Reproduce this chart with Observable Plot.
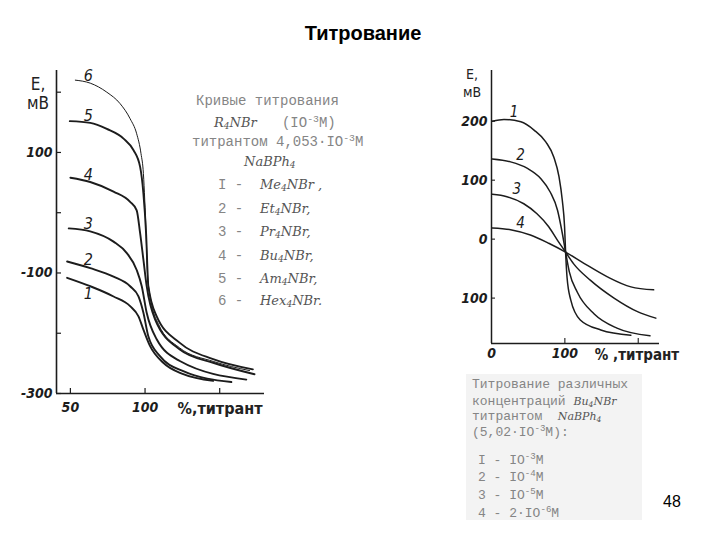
<!DOCTYPE html>
<html><head><meta charset="utf-8">
<script src="https://cdn.jsdelivr.net/npm/d3@7"></script>
<script src="https://cdn.jsdelivr.net/npm/@observablehq/plot@0.6"></script>
<style>
body{margin:0;width:720px;height:540px;background:#fff;position:relative;overflow:hidden;font-family:"Liberation Sans",Arial,sans-serif}
.t{position:absolute;white-space:pre;line-height:1;transform:translateY(-50%)}
.c{transform:translate(-50%,-50%)}
.tw{font-family:"Liberation Mono","DejaVu Sans Mono",monospace;color:#858585;font-size:14px}
.tw2{font-family:"Liberation Mono","DejaVu Sans Mono",monospace;color:#858585;font-size:13px}
.hw{font-family:"DejaVu Serif","Liberation Serif",serif;font-style:italic;color:#555;font-size:13px}
.ax{font-family:"Liberation Sans Narrow","DejaVu Sans Condensed",sans-serif;color:#222}
sub{font-size:0.7em;vertical-align:-0.25em;line-height:0}
sup{font-size:0.7em;vertical-align:0.55em;line-height:0}
#L,#R{position:absolute;top:0}
#L{left:0}#R{left:400px}
</style></head><body>
<div class="t c" style="left:363px;top:33px;font-size:20px;font-weight:bold;font-family:Arial,'Liberation Sans',sans-serif">Титрование</div>
<div id="L"></div><div id="R"></div>

<div class="t c ax" style="left:38px;top:84px;font-size:17px">E,</div>
<div class="t c ax" style="left:38px;top:103px;font-size:17px">мВ</div>
<div class="t c ax" style="left:220px;top:409px;font-size:16px;font-weight:bold">%,титрант</div>

<div class="t c ax" style="left:472px;top:74px;font-size:14px">E,</div>
<div class="t c ax" style="left:472px;top:92px;font-size:14px">мВ</div>
<div class="t c ax" style="left:637px;top:355px;font-size:15px;font-weight:bold">% ,титрант</div>

<div class="t tw" style="left:196px;top:101px">Кривые титрования</div>
<div class="t" style="left:214px;top:122px"><span class="hw">R<sub>4</sub>NBr</span><span class="tw">   (IO<sup>-3</sup>M)</span></div>
<div class="t tw" style="left:192px;top:142px">титрантом 4,053·IO<sup>-3</sup>M</div>
<div class="t hw" style="left:244px;top:161px">NaBPh<sub>4</sub></div>
<div class="t" style="left:218px;top:184px"><span class="tw">I -  </span><span class="hw">Me<sub>4</sub>NBr ,</span></div>
<div class="t" style="left:218px;top:208px"><span class="tw">2 -  </span><span class="hw">Et<sub>4</sub>NBr,</span></div>
<div class="t" style="left:218px;top:231px"><span class="tw">3 -  </span><span class="hw">Pr<sub>4</sub>NBr,</span></div>
<div class="t" style="left:218px;top:255px"><span class="tw">4 -  </span><span class="hw">Bu<sub>4</sub>NBr,</span></div>
<div class="t" style="left:218px;top:278px"><span class="tw">5 -  </span><span class="hw">Am<sub>4</sub>NBr,</span></div>
<div class="t" style="left:218px;top:300px"><span class="tw">6 -  </span><span class="hw">Hex<sub>4</sub>NBr.</span></div>

<div style="position:absolute;left:466px;top:374px;width:176px;height:146px;background:#f3f3f3"></div>
<div class="t tw2" style="left:472px;top:384px">Титрование различных</div>
<div class="t" style="left:472px;top:400px"><span class="tw2">концентраций </span><span class="hw" style="font-size:11px">Bu<sub>4</sub>NBr</span></div>
<div class="t" style="left:472px;top:415px"><span class="tw2">титрантом  </span><span class="hw" style="font-size:11px">NaBPh<sub>4</sub></span></div>
<div class="t tw2" style="left:472px;top:432px">(5,02·IO<sup>-3</sup>M):</div>
<div class="t tw2" style="left:478px;top:460px">I - IO<sup>-3</sup>M</div>
<div class="t tw2" style="left:478px;top:477px">2 - IO<sup>-4</sup>M</div>
<div class="t tw2" style="left:478px;top:495px">3 - IO<sup>-5</sup>M</div>
<div class="t tw2" style="left:478px;top:513px">4 - 2·IO<sup>-6</sup>M</div>
<div class="t c" style="left:672px;top:502px;font-size:16px;font-family:Arial,'Liberation Sans',sans-serif">48</div>

<script>
// ---------- Left chart data: E (mV) vs % titrant ----------
const seriesL = ["1","2","3","4","5","6"];
const curveL1 = [[47.8,-108],[63.3,-122],[78.9,-139],[90,-155],[95.6,-172],[98.9,-194],[103.3,-221],[112.2,-249],[125.6,-268],[145.6,-279]];
const curveL2 = [[47.8,-81],[63.3,-92],[78.9,-106],[90,-122],[95.6,-139],[98.9,-166],[102.2,-205],[110,-238],[125.6,-263],[157.8,-281]];
const curveL3 = [[48.9,-26],[63.3,-31],[78.9,-48],[87.8,-67],[94.4,-95],[97.8,-122],[101.1,-166],[107.8,-210],[123.3,-246],[167.8,-277]];
const curveL4 = [[50,58],[63.3,51],[78.9,35],[90,18],[94.4,4],[96.7,-34],[98.9,-78],[101.1,-122],[106.7,-177],[123.3,-227],[145.6,-249],[173.3,-268]];
const curveL5 = [[49.6,152],[63.3,149],[74.4,139],[85.6,123],[92.2,104],[96.7,76],[98.9,32],[100.7,-34],[102.2,-122],[107.8,-172],[123.3,-216],[145.6,-243],[172.2,-260]];
const curveL6 = [[53.3,220],[63.3,215],[74.4,200],[83.3,181],[90,156],[94.4,131],[97.3,98],[98.9,65],[99.8,21],[100.7,-34],[101.6,-100],[103.5,-140],[109,-185],[123,-224],[146,-247],[170,-262]];
const curvesL = [curveL1, curveL2, curveL3, curveL4, curveL5, curveL6];
const xDomainL = [40.7, 180];
const yDomainL = [-300, 236];
const xTicksL = [50, 100, 150];
const xTickLabelsL = [50, 100];
const yTicksL = [-300, -200, -100, 0, 100, 200];
const yTickLabelsL = [-300, -100, 100];

// ---------- Right chart data ----------
const seriesR = ["1","2","3","4"];
const curveR1 = [[1,200],[17,203],[40,199],[58,185],[74,165],[85,139],[92,106],[96.5,66],[99.6,21],[101,-22],[103,-65],[108,-103],[121,-137],[149,-154],[190,-163]];
const curveR2 = [[1,136],[26,131],[49,120],[67,103],[80,80],[90,49],[96.5,10],[101,-22],[106,-55],[117,-90],[140,-127],[171,-151],[216,-164]];
const curveR3 = [[1,76],[21,72],[44,60],[62,43],[78,21],[90,-2],[101,-22],[112,-42],[135,-70],[167,-100],[199,-123],[224,-134]];
const curveR4 = [[1,19],[26,16],[53,7],[78,-7],[101,-22],[126,-41],[158,-64],[190,-81],[221,-86]];
const curvesR = [curveR1, curveR2, curveR3, curveR4];
const xDomainR = [0, 229];
const yDomainR = [-177, 286];
const xTicksR = [100, 200];
const xTickLabelsR = [0, 100];
const yTicksR = [200, 100, 0, -100];
const yTickLabelsR = ["200", "100", "0", "100"];

// ---------- layout (not data) ----------
const labelDyL = [8, -8, -8, -7, -7, -7];
const ink = "#1c1c1c";

const rowsOf = (series, curves) => series.flatMap((s, i) => curves[i].map(([x, y]) => ({s, x, y})));
const rowsL = rowsOf(seriesL, curvesL);
const rowsR = rowsOf(seriesR, curvesR);

const axisStyle = {background: "transparent", overflow: "visible", fontFamily: "'Liberation Sans Narrow','DejaVu Sans Condensed',sans-serif", fontSize: "14px", fontStyle: "italic", fontWeight: "bold", color: ink};

// Left plot
const WL = 300, HL = 430, mlL = 56, mrL = 36, mtL = 70, mbL = 37;
const left = Plot.plot({
  width: WL, height: HL, marginLeft: mlL, marginRight: mrL, marginTop: mtL, marginBottom: mbL,
  x: {domain: xDomainL, label: null}, y: {domain: yDomainL, label: null},
  style: axisStyle,
  marks: [
    Plot.ruleX([xDomainL[0]], {stroke: ink, strokeWidth: 1.6}),
    Plot.ruleY([yDomainL[0]], {stroke: ink, strokeWidth: 1.6}),
    Plot.tickY(yTicksL, {y: d => d, stroke: ink, strokeWidth: 1.2, insetRight: WL - mlL - mrL - 5}),
    Plot.tickX(xTicksL, {x: d => d, stroke: ink, strokeWidth: 1.2, insetTop: HL - mtL - mbL - 5}),
    Plot.axisY({ticks: yTickLabelsL, tickSize: 0, tickPadding: 4, label: null, tickFormat: d => String(d), fill: ink}),
    Plot.axisX({ticks: xTickLabelsL, tickSize: 0, tickPadding: 9, label: null, tickFormat: d => String(d), fill: ink}),
    Plot.line(rowsL.filter(d => d.s !== "6"), {x: "x", y: "y", z: "s", curve: "monotone-x", stroke: ink, strokeWidth: 1.9}),
    Plot.line(rowsL.filter(d => d.s === "6"), {x: "x", y: "y", curve: "monotone-x", stroke: ink, strokeWidth: 1.0}),
    ...seriesL.map((s, i) => Plot.text([{s, x: curvesL[i][1][0], y: curvesL[i][1][1]}], {x: "x", y: "y", text: "s", dx: -2, dy: labelDyL[i], fontSize: 16, fontStyle: "italic", fontWeight: "normal", fill: ink}))
  ]
});
document.getElementById("L").appendChild(left);

// Right plot
const WR = 300, HR = 380, mlR = 91, mrR = 41, mtR = 70, mbR = 37;
const right = Plot.plot({
  width: WR, height: HR, marginLeft: mlR, marginRight: mrR, marginTop: mtR, marginBottom: mbR,
  x: {domain: xDomainR, label: null}, y: {domain: yDomainR, label: null},
  style: axisStyle,
  marks: [
    Plot.ruleX([xDomainR[0]], {stroke: ink, strokeWidth: 1.5}),
    Plot.ruleY([yDomainR[0]], {stroke: ink, strokeWidth: 1.5}),
    Plot.tickY(yTicksR, {y: d => d, stroke: ink, strokeWidth: 1.1, insetRight: WR - mlR - mrR - 4}),
    Plot.tickX(xTicksR, {x: d => d, stroke: ink, strokeWidth: 1.1, insetTop: HR - mtR - mbR - 5}),
    Plot.axisY({ticks: yTicksR, tickSize: 0, tickPadding: 4, label: null, tickFormat: d => yTickLabelsR[yTicksR.indexOf(d)], fill: ink}),
    Plot.axisX({ticks: xTickLabelsR, tickSize: 0, tickPadding: 5, label: null, tickFormat: d => String(d), fill: ink}),
    Plot.line(rowsR, {x: "x", y: "y", z: "s", curve: "monotone-x", stroke: ink, strokeWidth: 1.5}),
    Plot.text(seriesR.map((s, i) => ({s, x: curvesR[i][1][0], y: curvesR[i][1][1]})), {x: "x", y: "y", text: "s", dx: 10, dy: -7, fontSize: 15, fontStyle: "italic", fontWeight: "normal", fill: ink})
  ]
});
document.getElementById("R").appendChild(right);
</script>
</body></html>
